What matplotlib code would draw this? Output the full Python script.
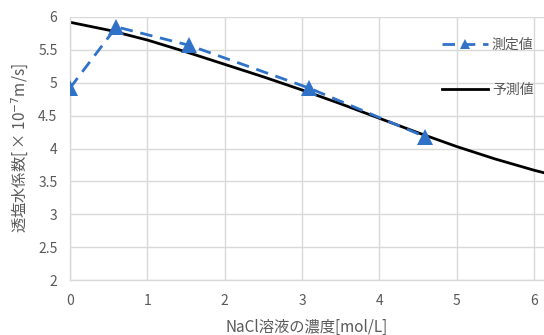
import matplotlib.pyplot as plt

plt.rcParams['font.family'] = ['Noto Sans CJK JP', 'DejaVu Sans']

# measured values
meas_x = [0, 0.6, 1.54, 3.09, 4.59]
meas_y = [4.92, 5.85, 5.57, 4.92, 4.18]

# predicted curve
pred_x = [0, 0.5, 1, 1.5, 2, 2.5, 3, 3.5, 4, 4.5, 5, 5.5, 6, 6.2]
pred_y = [5.92, 5.80, 5.65, 5.47, 5.28, 5.09, 4.89, 4.68, 4.46, 4.24, 4.03, 3.84, 3.67, 3.61]

xticks = [0, 1, 2, 3, 4, 5, 6]
yticks = [2, 2.5, 3, 3.5, 4, 4.5, 5, 5.5, 6]

blue = '#2F72C8'
gray_txt = '#595959'
grid_c = '#D9D9D9'

fig = plt.figure(figsize=(5.44, 3.35), dpi=100)
ax = fig.add_axes([70 / 544, 1 - 280 / 335, 1 - 70 / 544, 263 / 335])

ax.plot(meas_x, meas_y, color=blue, lw=2.0, ls=(0, (4.5, 2.8)),
        marker='^', ms=12, markeredgewidth=0, label='測定値', zorder=3)
ax.plot(pred_x, pred_y, color='black', lw=2.0, label='予測値', zorder=2)

ax.set_xlim(0, 6.13)
ax.set_ylim(2, 6)
ax.set_xticks(xticks)
ax.set_yticks(yticks)
ax.set_yticklabels([f'{v:g}' for v in yticks])
ax.grid(True, color=grid_c, lw=1.0)
ax.set_axisbelow(True)
for s in ['top', 'right']:
    ax.spines[s].set_visible(False)
for s in ['left', 'bottom']:
    ax.spines[s].set_color(grid_c)
    ax.spines[s].set_linewidth(1.0)
ax.tick_params(length=0, colors=gray_txt, labelsize=10)
ax.tick_params(axis='x', pad=10)
ax.tick_params(axis='y', pad=9)

ax.set_xlabel('NaCl溶液の濃度[mol/L]', color=gray_txt, fontsize=11, labelpad=8)
ax.set_ylabel('透塩水係数[ × 10$^{-7}$m/s]', color=gray_txt, fontsize=11, labelpad=5)

leg = ax.legend(loc='upper left', bbox_to_anchor=(0.77, 0.948), frameon=False,
                fontsize=10, handlelength=3.3, labelspacing=2.26, handletextpad=0.3,
                borderpad=0)
for t in leg.get_texts():
    t.set_color(gray_txt)
leg.legend_handles[0].set_markersize(7)

fig.savefig('out.png', dpi=100)
